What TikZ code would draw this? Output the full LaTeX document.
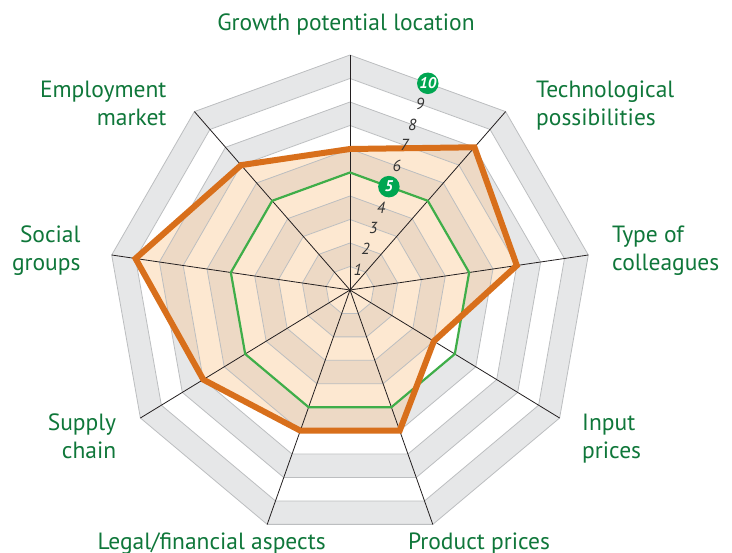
\documentclass[tikz,border=0pt]{standalone}
\usepackage{fontspec}
\setmainfont{PT Sans}
\usetikzlibrary{calc}
\definecolor{bandgray}{HTML}{E6E7E8}
\definecolor{peach}{HTML}{FDE8D1}
\definecolor{tan}{HTML}{EDD9C5}
\definecolor{ringline}{HTML}{BCBEC0}
\definecolor{spoke}{HTML}{231F20}
\definecolor{refgreen}{HTML}{3FAE49}
\definecolor{dataorange}{HTML}{D86F1B}
\definecolor{labgreen}{HTML}{0F773A}
\definecolor{badgegreen}{HTML}{00A651}
\definecolor{numgray}{HTML}{333333}
\begin{document}
\begin{tikzpicture}[x=1pt,y=-1pt,
  lab/.style={text=labgreen, font=\fontsize{23.5}{28}\selectfont, inner sep=0pt},
  num/.style={text=numgray, font=\fontsize{16}{18}\selectfont\itshape, inner sep=0pt},
  badge/.style={circle, fill=badgegreen, text=white, minimum size=21.5pt, inner sep=0pt,
    font=\fontsize{15.5}{17}\selectfont\bfseries\itshape},
  ringstyle/.style={draw=ringline, line width=0.8pt},
  spokestyle/.style={draw=spoke, line width=0.8pt},
  refline/.style={draw=refgreen, line width=2.2pt, line join=miter},
  dataline/.style={draw=dataorange, line width=6pt, line join=miter}]
\useasboundingbox (0,0) rectangle (732,553);
\fill[white] (0,0) rectangle (732,553);
% hub and outer vertices
\coordinate (hub) at (350,290);
\coordinate (v0) at (350,55);
\coordinate (v1) at (505.6,111.6);
\coordinate (v2) at (588.3,255.0);
\coordinate (v3) at (559.6,418.0);
\coordinate (v4) at (432.8,524.4);
\coordinate (v5) at (267.2,524.4);
\coordinate (v6) at (140.4,418.0);
\coordinate (v7) at (111.7,255.0);
\coordinate (v8) at (194.4,111.6);
\coordinate (mid) at ($(v0)!0.5!(v1)$);
% data points
\foreach \i/\val in {0/6,1/8,2/7,3/4,4/6,5/6,6/7,7/9,8/7}{
  \coordinate (o\i) at ($(hub)!\val/10!(v\i)$);
  \coordinate (g\i) at ($(hub)!0.5!(v\i)$);
}
% background bands
\foreach \k in {10,...,1}{
  \pgfmathsetmacro{\f}{\k/10}
  \pgfmathparse{mod(\k,2)==0 ? "bandgray" : "white"}
  \edef\bandcol{\pgfmathresult}
  \fill[\bandcol] ($(hub)!\f!(v0)$) \foreach \i in {1,...,8}{ -- ($(hub)!\f!(v\i)$) } -- cycle;
}
% bands inside data polygon
\begin{scope}
  \clip (o0) -- (o1) -- (o2) -- (o3) -- (o4) -- (o5) -- (o6) -- (o7) -- (o8) -- cycle;
  \foreach \k in {10,...,1}{
    \pgfmathsetmacro{\f}{\k/10}
    \pgfmathparse{mod(\k,2)==0 ? "tan" : "peach"}
    \edef\bandcol{\pgfmathresult}
    \fill[\bandcol] ($(hub)!\f!(v0)$) \foreach \i in {1,...,8}{ -- ($(hub)!\f!(v\i)$) } -- cycle;
  }
\end{scope}
% ring lines
\foreach \k in {1,...,10}{
  \pgfmathsetmacro{\f}{\k/10}
  \draw[ringstyle] ($(hub)!\f!(v0)$) \foreach \i in {1,...,8}{ -- ($(hub)!\f!(v\i)$) } -- cycle;
}
% spokes
\foreach \i in {0,...,8}{ \draw[spokestyle] (hub) -- (v\i); }
% reference polygon (5)
\draw[refline] (g0) -- (g1) -- (g2) -- (g3) -- (g4) -- (g5) -- (g6) -- (g7) -- (g8) -- cycle;
% data polygon
\draw[dataline] (o0) -- (o1) -- (o2) -- (o3) -- (o4) -- (o5) -- (o6) -- (o7) -- (o8) -- cycle;
% scale numbers
\foreach \k in {1,2,3,4,6,7,8,9}{
  \node[num] (n\k) at ($(hub)!\k/10!(mid)$) {\k};
}
\node[badge] (n5) at ($(hub)!0.5!(mid)$) {5};
\node[badge] (n10) at (mid) {10};
% labels
\node[lab, anchor=base] (growth) at (346,31) {Growth potential location};
\node[lab, anchor=base east] (emp1) at (166.6,97.5) {Employment};
\node[lab, anchor=base east] (emp2) at (166.6,126) {market};
\node[lab, anchor=base west] (tech1) at (536,97.5) {Technological};
\node[lab, anchor=base west] (tech2) at (536,126) {possibilities};
\node[lab, anchor=base east] (soc1) at (80.7,243) {Social};
\node[lab, anchor=base east] (soc2) at (80.7,271) {groups};
\node[lab, anchor=base west] (type1) at (612,243) {Type of};
\node[lab, anchor=base west] (type2) at (612,271) {colleagues};
\node[lab, anchor=base east] (sup1) at (116.4,431) {Supply};
\node[lab, anchor=base east] (sup2) at (116.4,459) {chain};
\node[lab, anchor=base west] (inp1) at (582,431) {Input};
\node[lab, anchor=base west] (inp2) at (582,459) {prices};
\node[lab, anchor=base] (legal) at (211.6,549.5) {Legal/financial aspects};
\node[lab, anchor=base] (prod) at (479,549.5) {Product prices};
\end{tikzpicture}
\end{document}
